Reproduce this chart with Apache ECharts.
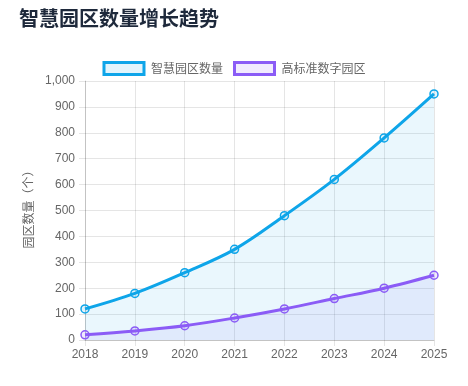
<!DOCTYPE html>
<html><head><meta charset="utf-8">
<script src="https://cdn.jsdelivr.net/npm/echarts@6/dist/echarts.min.js"></script>
<style>html,body{margin:0;padding:0;background:#fff}#c{width:468px;height:386px}</style>
</head><body><div id="c"></div>
<script>
var years = ['2018','2019','2020','2021','2022','2023','2024','2025'];
var smartParks = [120, 180, 260, 350, 480, 620, 780, 950];
var digitalParks = [20, 35, 55, 85, 120, 160, 200, 250];
var seriesNames = ['智慧园区数量', '高标准数字园区'];
var yTicks = {min: 0, max: 1000, interval: 100};

var FONT = '"Liberation Sans", "Noto Sans CJK SC", sans-serif';
var blue = '#0ea5e9', blueFill = 'rgba(14,165,233,0.12)';
var purple = '#8b5cf6', purpleFill = 'rgba(139,92,246,0.12)';
var grid = 'rgba(0,0,0,0.1)';

var chart = echarts.init(document.getElementById('c'), null, {renderer: 'canvas'});
function mk(name, data, line, fill) {
  return {
    name: name, type: 'line', data: data, smooth: 0.35,
    symbol: 'circle', symbolSize: 8,
    lineStyle: {color: line, width: 3},
    itemStyle: {color: fill, borderColor: line, borderWidth: 1.5},
    areaStyle: {color: fill, origin: 'start'},
    emphasis: {disabled: true}
  };
}
chart.setOption({
  animation: false,
  textStyle: {fontFamily: FONT},
  title: {
    text: '智慧园区数量增长趋势', left: 14, top: 3,
    textStyle: {fontSize: 20, fontWeight: 'bold', color: '#1e293b', fontFamily: '"Noto Sans CJK SC", sans-serif'}
  },
  legend: {
    top: 56, left: 'center', itemWidth: 40, itemHeight: 12, itemGap: 10,
    textStyle: {fontSize: 12, color: '#666', fontFamily: '"Noto Sans CJK SC", sans-serif', padding: [0,0,0,2]},
    data: [
      {name: seriesNames[0], icon: 'rect', itemStyle: {color: blueFill, borderColor: blue, borderWidth: 3}},
      {name: seriesNames[1], icon: 'rect', itemStyle: {color: purpleFill, borderColor: purple, borderWidth: 3}}
    ]
  },
  grid: {left: 85, right: 34, top: 81, bottom: 46, containLabel: false},
  xAxis: {
    type: 'category', data: years, boundaryGap: false,
    axisLine: {show: true, lineStyle: {color: 'rgba(0,0,0,0.15)'}},
    axisTick: {show: true, length: 6, alignWithLabel: true, lineStyle: {color: grid}},
    splitLine: {show: true, lineStyle: {color: grid}},
    axisLabel: {color: '#666', fontSize: 12, margin: 9}
  },
  yAxis: {
    type: 'value', min: yTicks.min, max: yTicks.max, interval: yTicks.interval,
    name: '园区数量（个）', nameLocation: 'middle', nameGap: 49, nameRotate: 90,
    nameTextStyle: {color: '#666', fontSize: 12, fontFamily: '"Noto Sans CJK SC", sans-serif', padding: [0,0,0,8]},
    axisLine: {show: true, lineStyle: {color: 'rgba(0,0,0,0.15)'}},
    axisTick: {show: true, length: 6, lineStyle: {color: grid}},
    splitLine: {show: true, lineStyle: {color: grid}},
    axisLabel: {color: '#666', fontSize: 12, margin: 10,
      formatter: function (v) { return v.toLocaleString('en-US'); }}
  },
  series: [
    mk(seriesNames[1], digitalParks, purple, purpleFill),
    mk(seriesNames[0], smartParks, blue, blueFill)
  ]
});
</script></body></html>
